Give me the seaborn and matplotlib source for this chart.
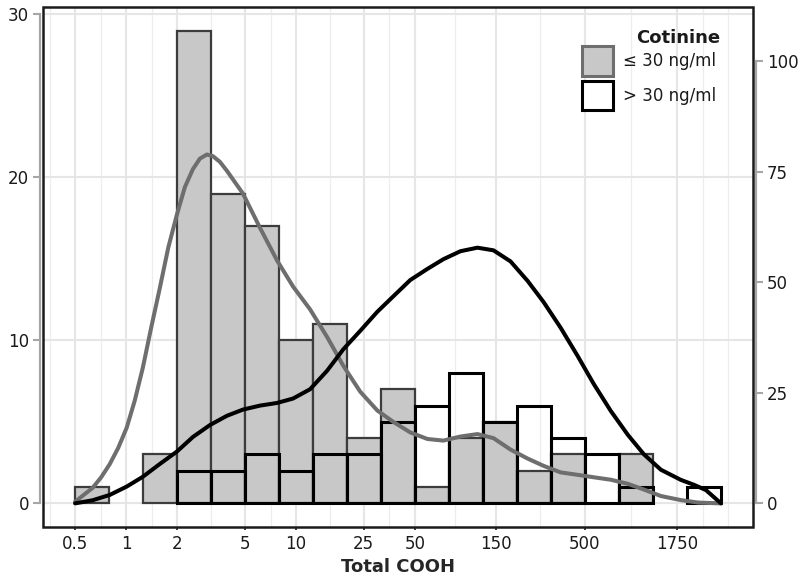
import numpy as np
import pandas as pd
import matplotlib
matplotlib.use("Agg")
import matplotlib.pyplot as plt
import seaborn as sns
from matplotlib.patches import Patch, Rectangle
from matplotlib.ticker import FixedLocator, NullFormatter

# ---------------- data ----------------
# histogram bins (log10 of Total COOH), width 0.2 decades
bin_edges_log = [-0.3, -0.1, 0.1, 0.3, 0.5, 0.7, 0.9, 1.1, 1.3, 1.5, 1.7,
                 1.9, 2.1, 2.3, 2.5, 2.7, 2.9, 3.1, 3.3, 3.5]
bin_centers_log = [-0.2, 0.0, 0.2, 0.4, 0.6, 0.8, 1.0, 1.2, 1.4, 1.6,
                   1.8, 2.0, 2.2, 2.4, 2.6, 2.8, 3.0, 3.2, 3.4]
counts_low = [1, 0, 3, 29, 19, 17, 10, 11, 4, 7, 1, 4, 5, 2, 3, 0, 3, 0, 0]   # cotinine <= 30
counts_high = [0, 0, 0, 2, 2, 3, 2, 3, 3, 5, 6, 8, 5, 6, 4, 3, 1, 0, 1]      # cotinine > 30

# smoothed density curves
curve_low_x = [0.5, 0.634, 0.712, 0.799, 0.897, 1.007, 1.122, 1.251, 1.404, 1.576,
               1.769, 1.986, 2.214, 2.468, 2.715, 2.985, 3.238, 3.561, 3.916, 4.868,
               6.133, 7.727, 9.60, 12.09, 15.24, 18.94, 23.86, 30.06, 37.35, 47.06,
               59.29, 73.69, 92.8, 116.9, 145.3, 183.0, 230.6, 286.6, 361.0, 454.9,
               565.2, 712.2, 897.3, 1115, 1405, 1843, 2322, 3173]
curve_low_y = [0.1, 0.95, 1.6, 2.4, 3.4, 4.65, 6.3, 8.3, 10.8, 13.2,
               15.7, 17.7, 19.4, 20.5, 21.15, 21.4, 21.3, 20.95, 20.4, 19.0,
               16.9, 14.9, 13.3, 11.9, 10.2, 8.45, 6.85, 5.7, 5.0, 4.35,
               3.95, 3.85, 4.1, 4.25, 4.0, 3.3, 2.75, 2.3, 1.9, 1.75,
               1.6, 1.45, 1.2, 0.85, 0.45, 0.2, 0.05, 0.0]
curve_high_x = [0.5, 0.634, 0.799, 1.007, 1.251, 1.576, 1.986, 2.468, 3.109, 3.916,
                4.868, 6.133, 7.727, 9.60, 12.09, 15.24, 18.94, 23.86, 30.06, 37.35,
                47.06, 59.29, 73.69, 92.8, 116.9, 145.3, 183.0, 230.6, 286.6, 361.0,
                454.9, 565.2, 712.2, 897.3, 1115, 1405, 1843, 2199, 2588, 3173]
curve_high_y = [0.0, 0.7, 1.9, 3.8, 6.0, 8.9, 11.7, 15.0, 17.7, 19.8,
                21.2, 22.1, 22.7, 23.7, 25.8, 30.0, 34.8, 39.0, 43.3, 46.8,
                50.5, 53.0, 55.2, 57.0, 57.8, 57.2, 54.7, 50.3, 45.5, 39.7,
                33.3, 27.0, 20.9, 15.5, 11.1, 7.6, 5.3, 4.2, 3.0, 0.0]

x_ticks = [0.5, 1, 2, 5, 10, 25, 50, 150, 500, 1750]
x_tick_labels = ["0.5", "1", "2", "5", "10", "25", "50", "150", "500", "1750"]
left_ticks = [0, 10, 20, 30]
right_ticks = [0, 25, 50, 75, 100]
legend_title = "Cotinine"
legend_labels = ["\u2264 30 ng/ml", "> 30 ng/ml"]

# ---------------- style ----------------
sns.set_style("white")
plt.rcParams["font.family"] = ["DejaVu Sans"]

fig = plt.figure(figsize=(8.0, 5.77), dpi=100)
ax = fig.add_axes([43 / 800, 1 - 527 / 577, 710 / 800, 520 / 577])

centers = np.power(10.0, np.array(bin_centers_log))
df_low = pd.DataFrame({"x": centers, "w": counts_low})
df_high = pd.DataFrame({"x": centers, "w": counts_high})

sns.histplot(data=df_low, x="x", weights="w", bins=bin_edges_log, log_scale=True,
             ax=ax, color="#c8c8c8", edgecolor="#3c3c3c", linewidth=1.6,
             alpha=1, zorder=2)
sns.histplot(data=df_high, x="x", weights="w", bins=bin_edges_log, log_scale=True,
             ax=ax, fill=False, color="black", linewidth=2.2, zorder=3)
for p in ax.patches:
    if p.get_height() == 0:
        p.set_visible(False)

sns.lineplot(x=curve_low_x, y=curve_low_y, ax=ax, color="#6e6e6e", linewidth=2.9,
             zorder=4, solid_joinstyle="round", solid_capstyle="round")

ax2 = ax.twinx()
sns.lineplot(x=curve_high_x, y=curve_high_y, ax=ax2, color="black", linewidth=2.9,
             zorder=5, solid_joinstyle="round", solid_capstyle="round")

# ---------------- axes ----------------
ax.set_xlim(10 ** -0.49, 10 ** 3.69)
ax.set_ylim(-1.45, 30.45)
k = 3.685
ax2.set_ylim(-1.45 * k, 30.45 * k)

ax.set_xticks(x_ticks)
ax.set_xticklabels(x_tick_labels)
lg = np.log10(x_ticks)
minor = list((lg[:-1] + lg[1:]) / 2) + [lg[0] - 0.1505, lg[-1] + 0.1505, lg[-1] + 0.301]
ax.xaxis.set_minor_locator(FixedLocator(np.power(10.0, minor)))
ax.xaxis.set_minor_formatter(NullFormatter())
ax.set_yticks(left_ticks)
ax2.set_yticks(right_ticks)

ax.grid(which="major", color="#e6e6e6", linewidth=1.5, zorder=0)
ax.grid(which="minor", axis="x", color="#ededed", linewidth=0.9, zorder=0)
ax.set_axisbelow(True)

for s in ["top", "bottom", "right"]:
    ax.spines[s].set_visible(False)
for s in ["top", "bottom", "left"]:
    ax2.spines[s].set_visible(False)
ax.spines["left"].set_color("#a6a6a6")
ax.spines["left"].set_linewidth(1.6)
ax.spines["left"].set_bounds(0, 30)
ax.spines["left"].set_position(("outward", 2))
ax2.spines["right"].set_color("#a6a6a6")
ax2.spines["right"].set_linewidth(1.6)
ax2.spines["right"].set_bounds(0, 100)
ax2.spines["right"].set_position(("outward", 2))

ax.tick_params(axis="y", which="major", length=5, width=1.5, color="#a6a6a6",
               labelsize=12, labelcolor="#1a1a1a", pad=3, left=True)
ax2.tick_params(axis="y", which="major", length=5, width=1.5, color="#a6a6a6",
                labelsize=12, labelcolor="#1a1a1a", pad=3, right=True)
ax.tick_params(axis="x", which="major", length=2, width=1.2, color="#1a1a1a",
               labelsize=12, labelcolor="#1a1a1a", pad=4, bottom=True)
ax.tick_params(axis="x", which="minor", length=0)

ax.set_xlabel("Total COOH", fontsize=13, fontweight="bold", labelpad=3)
ax.set_ylabel("")
ax2.set_ylabel("")

frame = Rectangle((0, 0), 1, 1, transform=ax.transAxes, fill=False,
                  edgecolor="#1a1a1a", linewidth=1.8, clip_on=False, zorder=10)
ax2.add_patch(frame)

handles = [Patch(facecolor="#c8c8c8", edgecolor="#6e6e6e", linewidth=2.2),
           Patch(facecolor="white", edgecolor="black", linewidth=2.2)]
leg = ax2.legend(handles=handles, labels=legend_labels,
                 loc="upper right", bbox_to_anchor=(724 / 800, 1 - 38 / 577),
                 bbox_transform=fig.transFigure, frameon=False, fontsize=12,
                 borderpad=0, handlelength=1.9,
                 handleheight=2.35, handletextpad=0.55, labelspacing=0.3)
for t in leg.get_texts():
    t.set_color("#1a1a1a")
fig.text(720 / 800, 1 - 43 / 577, legend_title, ha="right", va="baseline",
         fontsize=13, fontweight="bold", color="#1a1a1a")

fig.savefig("out.png", dpi=100)
